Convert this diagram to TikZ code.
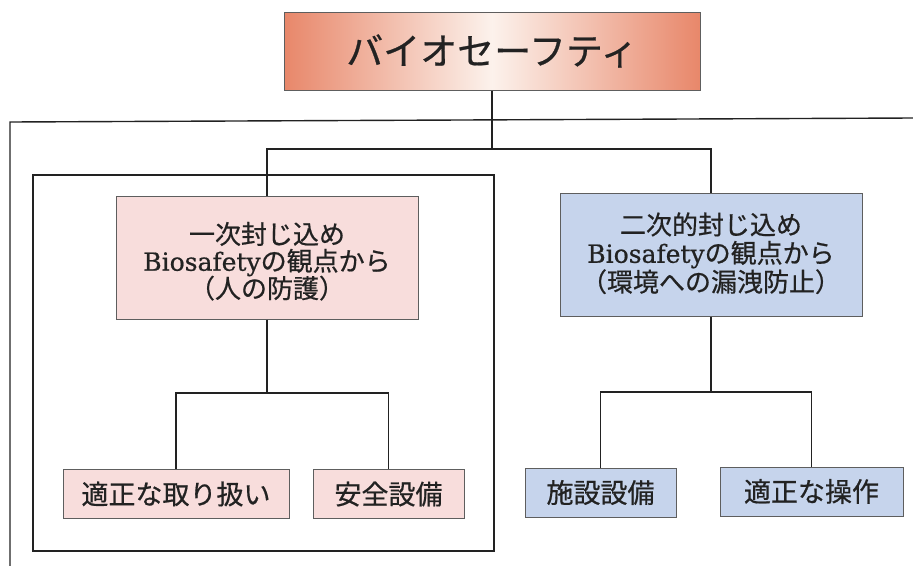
\documentclass[tikz,border=0pt]{standalone}
\usepackage{fontspec}
\newfontfamily\jp[FakeBold=0.6]{Noto Sans CJK JP}
\newfontfamily\bio[FakeBold=0.7]{DejaVu Serif}
\definecolor{salmon}{HTML}{E8876A}
\definecolor{salmonmid}{HTML}{FCF2EC}
\definecolor{pinkfill}{HTML}{F8DDDC}
\definecolor{bluefill}{HTML}{C6D4EC}
\definecolor{boxline}{HTML}{5E5E5E}
\definecolor{ink}{HTML}{222222}
\newcommand{\biotxt}{{\bio\fontsize{25}{28}\selectfont Biosafety}}
\begin{document}
\begin{tikzpicture}[x=1pt,y=-1pt,
  conn/.style={line width=1.4pt,draw=ink},
  frame/.style={line width=1.4pt,draw=ink},
  topbox/.style={draw=boxline,line width=1pt,left color=salmon,right color=salmon,middle color=salmonmid,
    minimum width=416pt,minimum height=78pt,inner sep=0pt,text=ink,font=\fontsize{37}{40}\selectfont\jp},
  pinkbox/.style={draw=boxline,line width=1pt,fill=pinkfill,inner sep=0pt,text=ink,align=center},
  bluebox/.style={draw=boxline,line width=1pt,fill=bluefill,inner sep=0pt,text=ink,align=center},
  midtext/.style={font=\fontsize{26}{28.5}\selectfont\jp,minimum width=302pt,minimum height=123pt},
  lowtext/.style={font=\fontsize{27}{28}\selectfont\jp,minimum height=49pt}]
\useasboundingbox (0,0) rectangle (913,565);
% frames
\draw[frame] (913,118) -- (10,122) -- (10,566);
\draw[frame] (33,175) rectangle (494,551);
% nodes
\node[topbox] (top) at (492,51) {バイオセーフティ};
\node[pinkbox,midtext] (lmid) at (267,257.5) {\raisebox{-13pt}[0pt][0pt]{\begin{tabular}{@{}c@{}}一次封じ込め\\[-3.5pt]\biotxt の観点から\\[-3.5pt]（人の防護）\end{tabular}}};
\node[bluebox,midtext] (rmid) at (711,254.5) {\raisebox{-8pt}[0pt][0pt]{\begin{tabular}{@{}c@{}}二次的封じ込め\\[-2pt]\biotxt の観点から\\[-2pt]（環境への漏洩防止）\end{tabular}}};
\node[pinkbox,lowtext,minimum width=226pt] (b1) at (176,494) {適正な取り扱い};
\node[pinkbox,lowtext,minimum width=151pt] (b2) at (388.5,494) {安全設備};
\node[bluebox,lowtext,minimum width=151pt] (b3) at (600.5,492.5) {施設設備};
\node[bluebox,lowtext,minimum width=183pt] (b4) at (811.5,491.5) {適正な操作};
% junctions
\coordinate (j0) at (492,149);
\coordinate (jl) at (267,393);
\coordinate (jr) at (711,392);
% connectors
\draw[conn] (top.south) -- (j0);
\draw[conn] (lmid.north) |- (j0) -| (rmid.north);
\draw[conn] (lmid.south) -- (jl);
\draw[conn] (b1.north) |- (jl) -| (b2.north);
\draw[conn] (rmid.south) -- (jr);
\draw[conn] (b3.north) |- (jr) -| (b4.north);
\end{tikzpicture}
\end{document}
